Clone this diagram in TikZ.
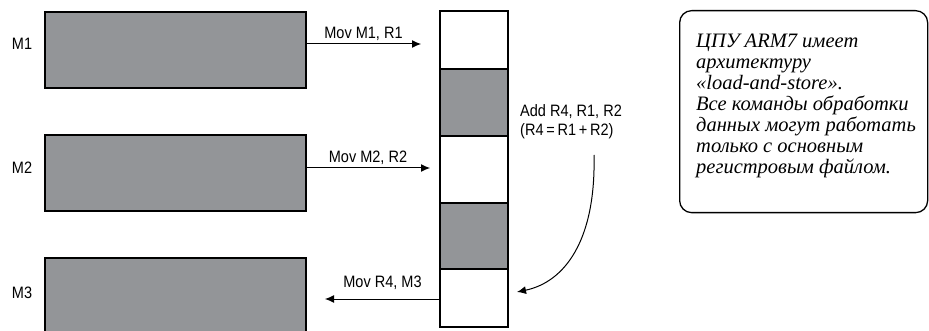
\documentclass[tikz,border=0pt]{standalone}
\usepackage{fontspec}
\usepackage{tikz}
\usetikzlibrary{arrows.meta,calc,positioning,shapes}
\setmainfont{Liberation Serif}
\newfontfamily\labelfont[FakeStretch=0.88]{Liberation Sans}
\definecolor{cellgray}{RGB}{147,149,152}
\tikzset{%
	membox/.style   = {draw, line width=2pt, fill=cellgray, minimum width=261pt, minimum height=76pt, outer sep=0pt},
	memlabel/.style = {font=\labelfont\fontsize{16.5}{19}\selectfont},
	regcell/.style  = {draw, line width=2pt, minimum width=68pt, outer sep=0pt},
	arrow/.style    = {line width=1pt,-{Latex[length=9pt,width=8pt]}},
	cmd/.style      = {memlabel, above=1.5pt, inner sep=1pt},
	notebox/.style  = {draw, line width=1.3pt, rounded corners=12pt, minimum width=248pt, minimum height=202pt},
	notetext/.style = {font=\itshape\fontsize{20.5}{21}\selectfont, align=left, inner sep=0pt},
}
\begin{document}
\begin{tikzpicture}[x=1pt,y=-1pt]
	\useasboundingbox (0,0) rectangle (929,331);
	\clip (0,0) rectangle (929,331);
	
	% memory blocks
	\node[membox] (m1) at (175.5,50) {};
	\node[membox] (m2) at (175.5,173) {};
	\node[membox] (m3) at (175.5,296) {};
	\node[memlabel] (lm1) at (22,44) {M1};
	\node[memlabel] (lm2) at (22,168) {M2};
	\node[memlabel] (lm3) at (22,293) {M3};
	
	% register file
	\node[regcell, minimum height=58pt, anchor=north] (r0) at (474,11) {};
	\node[regcell, minimum height=67pt, fill=cellgray, below=0pt of r0] (r1) {};
	\node[regcell, minimum height=67pt, below=0pt of r1] (r2) {};
	\node[regcell, minimum height=66pt, fill=cellgray, below=0pt of r2] (r3) {};
	\node[regcell, minimum height=58pt, below=0pt of r3] (r4) {};
	
	% transfers
	\coordinate (in1) at (421,44);
	\coordinate (in2) at (430,168);
	\coordinate (out3) at (325,299);
	\draw[arrow] (m1.east |- in1) -- (in1) node[cmd,midway] {Mov M1, R1};
	\draw[arrow] (m2.east |- in2) -- (in2) node[cmd,midway] {Mov M2, R2};
	\draw[arrow] (r4.west |- out3) -- (out3) node[cmd,midway,yshift=6pt] {Mov R4, M3};
	
	\node[memlabel, align=left, anchor=north west, inner sep=0pt] (add) at (520,104) {Add R4, R1, R2\\(R4\,=\,R1\,+\,R2)};
	\coordinate (c0) at (594,155);
	\coordinate (c1) at (517,292);
	\draw[arrow] (c0) .. controls (596,240) and (565,282) .. (c1);
	
	% note
	\node[notebox, anchor=north west] (note) at (679,10) {};
	\node[notetext, anchor=north west] (notetxt) at ([shift={(17,24)}]note.north west) {%
		ЦПУ ARM7 имеет\\архитектуру\\«load-and-store».\\Все команды обработки\\данных могут работать\\только с основным\\регистровым файлом.};
\end{tikzpicture}
\end{document}
